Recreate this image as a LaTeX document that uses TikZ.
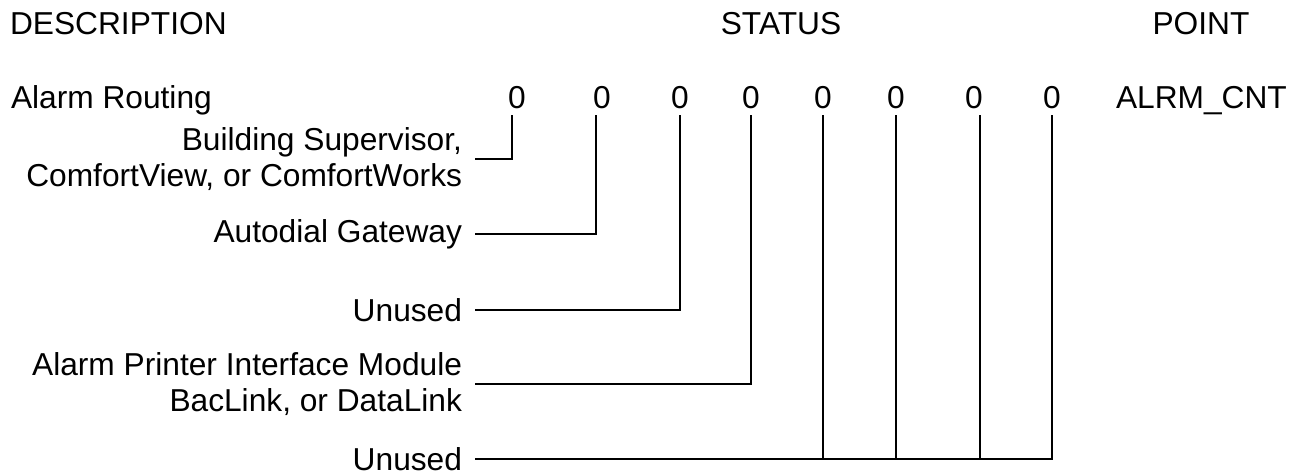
\documentclass[tikz,border=0pt]{standalone}
\usepackage{fontspec}
\setmainfont{Liberation Sans}
\begin{document}
\begin{tikzpicture}[x=1pt,y=-1pt,line width=2pt,
  every node/.style={font=\fontsize{31.7}{36.5}\selectfont,inner sep=0pt},
  bit/.style={anchor=base,outer ysep=7pt},
  lbl/.style={anchor=east,align=right,outer xsep=13pt}]
\useasboundingbox (0,5) rectangle (1291,480);
\node[anchor=base west] (desc) at (9,39) {DESCRIPTION};
\node[anchor=base] (stat) at (781,39) {STATUS};
\node[anchor=base] (pnt) at (1201,39) {POINT};
\node[anchor=base west] (rout) at (10,113) {Alarm Routing};
\node[bit] (d1) at (517,113) {0};
\node[bit] (d2) at (602,113) {0};
\node[bit] (d3) at (680,113) {0};
\node[bit] (d4) at (751,113) {0};
\node[bit] (d5) at (823,113) {0};
\node[bit] (d6) at (896,113) {0};
\node[bit] (d7) at (974,113) {0};
\node[bit] (d8) at (1052,113) {0};
\node[anchor=base west] (cnt) at (1115,113) {ALRM\_CNT};
\node[lbl] (bs) at (475,164) {Building Supervisor,\\ ComfortView, or ComfortWorks};
\node[lbl] (ag) at (475,239) {Autodial Gateway};
\node[lbl] (un1) at (475,315) {Unused};
\node[lbl] (ap) at (475,389) {Alarm Printer Interface Module\\ BacLink, or DataLink};
\node[lbl] (un2) at (475,464) {Unused};
\draw ([xshift=-5pt]d1.south) |- (bs.east);
\draw ([xshift=-6pt]d2.south) |- (ag.east);
\draw (d3.south) |- (un1.east);
\draw (d4.south) |- (ap.east);
\draw (d8.south) |- (un2.east);
\draw (d5.south) -- (d5.south |- un2.east);
\draw (d6.south) -- (d6.south |- un2.east);
\draw ([xshift=6pt]d7.south) -- ([xshift=6pt]d7.south |- un2.east);
\end{tikzpicture}
\end{document}
